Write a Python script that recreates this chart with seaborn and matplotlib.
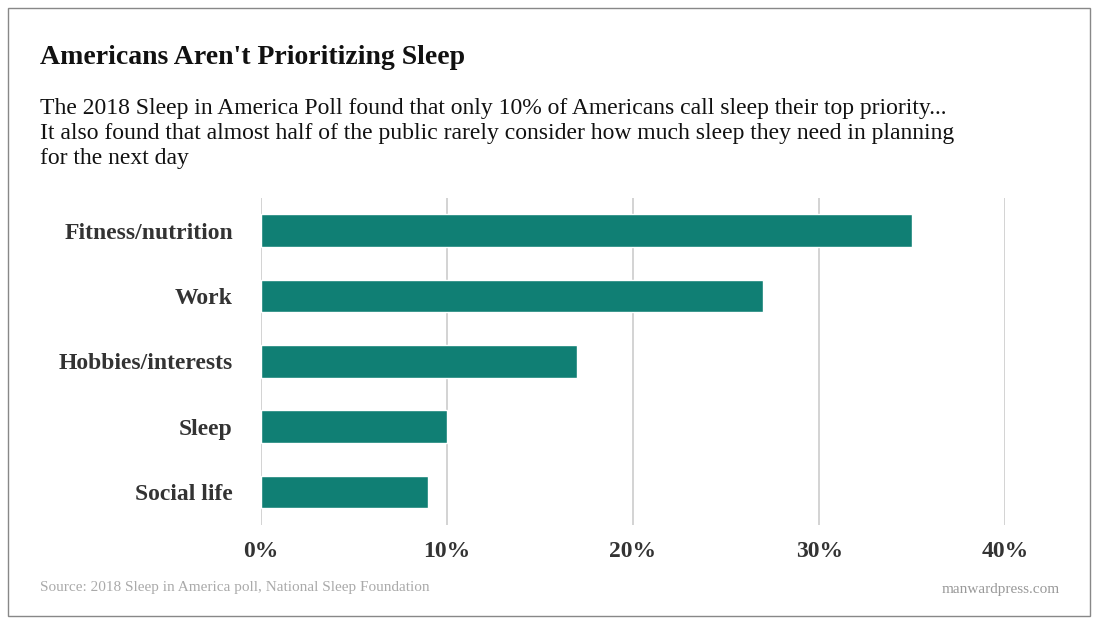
import matplotlib
matplotlib.use("Agg")
import matplotlib.pyplot as plt
import seaborn as sns
import pandas as pd
from matplotlib.patches import Rectangle

categories = ["Fitness/nutrition", "Work", "Hobbies/interests", "Sleep", "Social life"]
values = [35, 27, 17, 10, 9]
ticks = [0, 10, 20, 30, 40]
tick_labels = ["0%", "10%", "20%", "30%", "40%"]

sns.set_theme(style="white")
plt.rcParams["font.family"] = ["Liberation Serif", "DejaVu Serif"]

df = pd.DataFrame({"cat": categories, "val": values})
fig = plt.figure(figsize=(11, 6.24), dpi=100)
ax = fig.add_axes([0.237, 0.159, 0.677, 0.524])
sns.barplot(data=df, x="val", y="cat", color="#107f74", width=0.5, saturation=1, ax=ax)
ax.set_xlim(0, 40)
ax.set_ylim(4.5, -0.5)
ax.set_xticks(ticks)
ax.set_xticklabels(tick_labels)
ax.set_xlabel("")
ax.set_ylabel("")
for t in ticks:
    ax.axvline(t, color="#cccccc", lw=1.2, zorder=0)
for s in ax.spines.values():
    s.set_visible(False)
ax.tick_params(axis="x", labelsize=17, colors="#333333", pad=12, length=0)
ax.tick_params(axis="y", labelsize=17, colors="#333333", pad=20, length=0)
for lab in ax.get_xticklabels() + ax.get_yticklabels():
    lab.set_fontweight("bold")

fig.patches.append(Rectangle((8 / 1100, 8 / 624), 1082 / 1100, 608 / 624,
                             transform=fig.transFigure, fill=False,
                             edgecolor="#888888", lw=1))
fig.text(40 / 1100, 1 - 57 / 624, "Americans Aren't Prioritizing Sleep",
         fontsize=20, fontweight="bold", va="center", color="#111111")
fig.text(40 / 1100, 1 - 98 / 624,
         "The 2018 Sleep in America Poll found that only 10% of Americans call sleep their top priority...\n"
         "It also found that almost half of the public rarely consider how much sleep they need in planning\n"
         "for the next day",
         fontsize=17, va="top", color="#111111", linespacing=1.25)
fig.text(40 / 1100, 1 - 587 / 624, "Source: 2018 Sleep in America poll, National Sleep Foundation",
         fontsize=11, color="#aaaaaa", va="center")
fig.text(1060 / 1100, 1 - 590 / 624, "manwardpress.com", fontsize=11,
         color="#999999", va="center", ha="right")

fig.savefig("out.png", dpi=100)
